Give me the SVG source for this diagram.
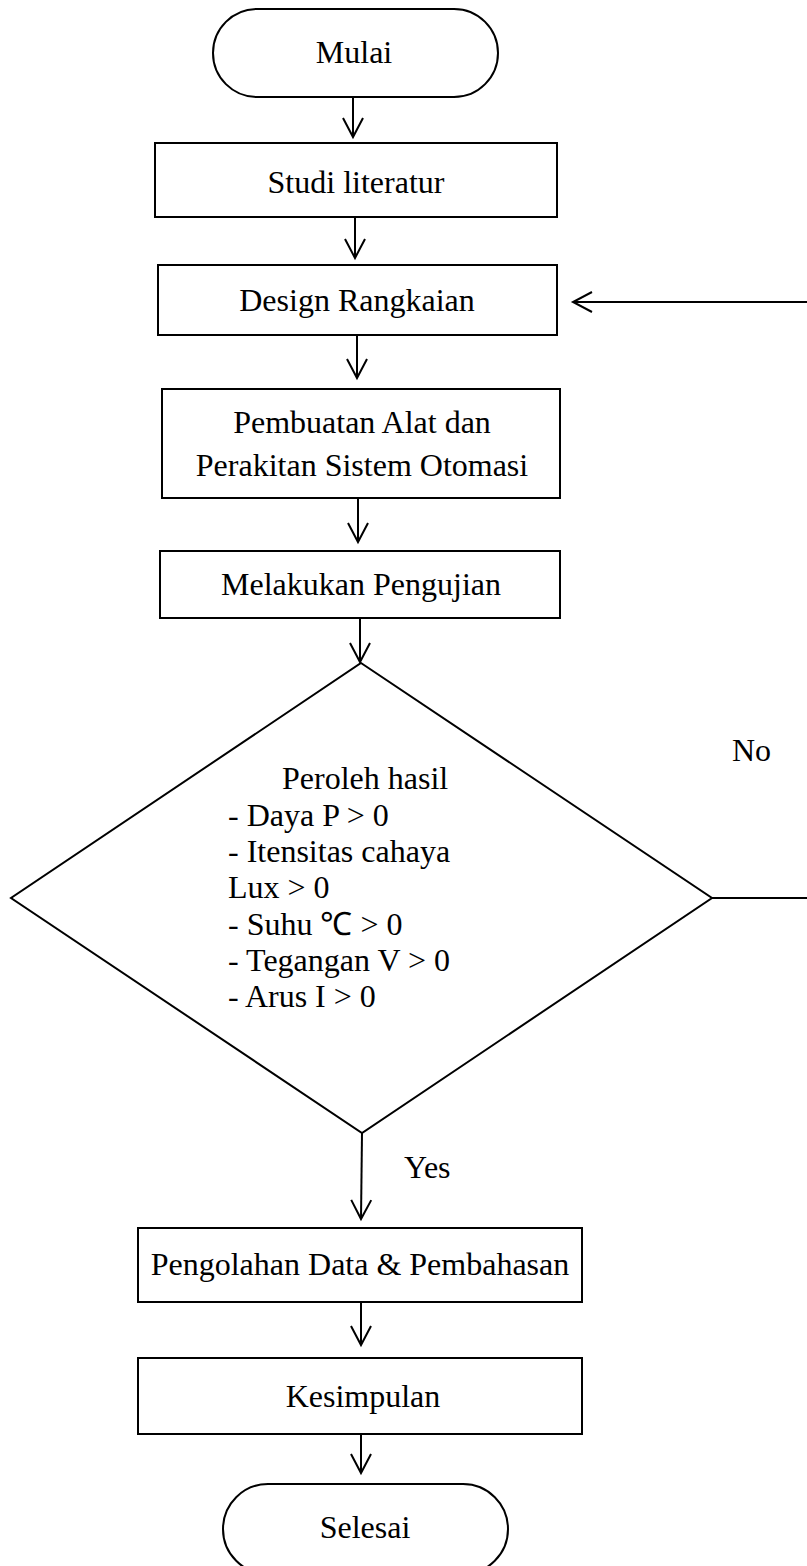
<svg xmlns="http://www.w3.org/2000/svg" width="807" height="1566" viewBox="0 0 807 1566">
<defs>
<style>
.s{fill:#fff;stroke:#000;stroke-width:2}
.t{font-family:"Liberation Serif","Times New Roman",serif;font-size:32px;fill:#000}
.m{text-anchor:middle}
.c{fill:none;stroke:#000;stroke-width:2}
</style>
<marker id="ah" markerWidth="24" markerHeight="24" viewBox="-20 -12 24 24" refX="0" refY="0" orient="auto" markerUnits="userSpaceOnUse">
<path d="M-19,-10 L0,0 L-19,10" fill="none" stroke="#000" stroke-width="2"/>
</marker>
</defs>
<rect width="807" height="1566" fill="#fff"/>
<g id="mulai"><rect class="s" x="213" y="9" width="285" height="88" rx="44"/><text class="t m" x="354" y="63">Mulai</text></g>
<g id="studi"><rect class="s" x="155" y="143" width="402" height="74"/><text class="t m" x="356" y="193">Studi literatur</text></g>
<g id="design"><rect class="s" x="158" y="265" width="399" height="70"/><text class="t m" x="357" y="311">Design Rangkaian</text></g>
<g id="pembuatan"><rect class="s" x="162" y="389" width="398" height="109"/><text class="t m" x="362" y="433">Pembuatan Alat dan</text><text class="t m" x="362" y="476">Perakitan Sistem Otomasi</text></g>
<g id="pengujian"><rect class="s" x="160" y="551" width="400" height="67"/><text class="t m" x="361" y="595">Melakukan Pengujian</text></g>
<g id="decision"><polygon class="s" points="361,663 712,898 362,1133 11,898"/>
<text class="t" x="282" y="789">Peroleh hasil</text>
<text class="t" x="228" y="826">- Daya P &gt; 0</text>
<text class="t" x="228" y="862">- Itensitas cahaya</text>
<text class="t" x="228" y="898">Lux &gt; 0</text>
<text class="t" x="228" y="935">- Suhu ℃ &gt; 0</text>
<text class="t" x="228" y="971">- Tegangan V &gt; 0</text>
<text class="t" x="228" y="1007">- Arus I &gt; 0</text>
</g>
<g id="pengolahan"><rect class="s" x="138" y="1228" width="444" height="74"/><text class="t m" x="360" y="1275">Pengolahan Data &amp; Pembahasan</text></g>
<g id="kesimpulan"><rect class="s" x="138" y="1358" width="444" height="76"/><text class="t m" x="363" y="1407">Kesimpulan</text></g>
<g id="selesai"><rect class="s" x="223" y="1484" width="285" height="90" rx="45"/><text class="t m" x="365" y="1538">Selesai</text></g>
<g id="connectors">
<line class="c" x1="353" y1="97" x2="353" y2="137" marker-end="url(#ah)"/>
<line class="c" x1="355" y1="217" x2="355" y2="258" marker-end="url(#ah)"/>
<line class="c" x1="357" y1="336" x2="357" y2="378" marker-end="url(#ah)"/>
<line class="c" x1="358" y1="498" x2="358" y2="542" marker-end="url(#ah)"/>
<line class="c" x1="360" y1="619" x2="360" y2="662" marker-end="url(#ah)"/>
<line class="c" x1="362" y1="1133" x2="361" y2="1219" marker-end="url(#ah)"/>
<line class="c" x1="361" y1="1302" x2="361" y2="1345" marker-end="url(#ah)"/>
<line class="c" x1="361" y1="1434" x2="361" y2="1473" marker-end="url(#ah)"/>
<polyline class="c" points="712,898 807,898"/>
<line class="c" x1="807" y1="302" x2="573" y2="302" marker-end="url(#ah)"/>
<text class="t" x="732" y="761">No</text>
<text class="t" x="404" y="1178">Yes</text>
</g>
</svg>
